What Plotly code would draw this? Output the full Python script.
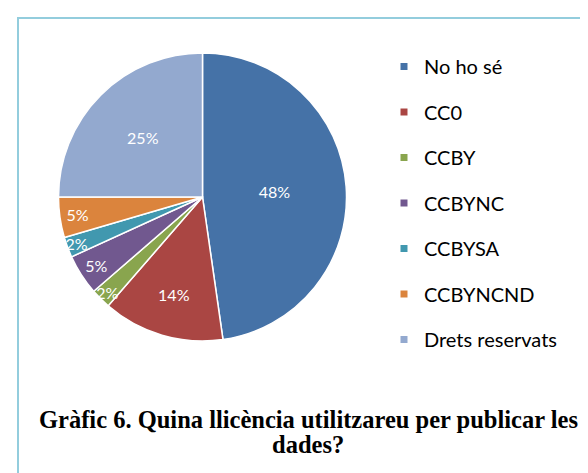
import plotly.graph_objects as go

labels = ["No ho sé", "CC0", "CCBY", "CCBYNC", "CCBYSA", "CCBYNCND", "Drets reservats"]
values = [21, 6, 1, 2, 1, 2, 11]
colors = ["#4572A7", "#AA4643", "#89A54E", "#71588F", "#4198AF", "#DB843D", "#93A9CF"]
title_lines = ["Gràfic 6. Quina llicència utilitzareu per publicar les", "dades?"]

W, H = 588, 473
fig = go.Figure()

fig.add_trace(go.Pie(
    labels=labels, values=values, sort=False, direction="clockwise", rotation=0,
    marker=dict(colors=colors, line=dict(color="white", width=1.5)),
    texttemplate="%{percent:.0%}", textposition="inside",
    insidetextorientation="horizontal",
    textfont=dict(color="white", size=16, family="Lato"),
    domain=dict(x=[50 / W, 339 / W], y=[(H - 333) / H, (H - 45) / H]),
    showlegend=False, hoverinfo="label+percent",
))

for lab, col in zip(labels, colors):
    fig.add_trace(go.Scatter(
        x=[None], y=[None], mode="markers", name=lab, legendgroup=lab,
        marker=dict(symbol="square", size=7, color=col), showlegend=True,
    ))

annotations = []
for i, line in enumerate(title_lines):
    annotations.append(dict(text="<b>" + line + "</b>", x=300 / W, y=(H - (411 + 25 * i)) / H,
                            xref="paper", yref="paper", xanchor="center", yanchor="middle",
                            showarrow=False, align="center",
                            font=dict(family="Liberation Serif", size=24.5, color="#000")))

fig.update_layout(
    width=W, height=H, margin=dict(l=0, r=0, t=0, b=0),
    paper_bgcolor="white", plot_bgcolor="white",
    xaxis=dict(visible=False), yaxis=dict(visible=False),
    uniformtext=dict(mode="show", minsize=16),
    legend=dict(x=376 / W, y=(H - 39) / H, xanchor="left", yanchor="top",
                font=dict(family="Lato", size=20, color="#000"),
                tracegroupgap=16.5, itemsizing="trace", bgcolor="rgba(0,0,0,0)"),
    shapes=[dict(type="rect", xref="paper", yref="paper",
                 x0=10 / W, x1=1.05, y0=-0.05, y1=(H - 10) / H,
                 line=dict(color="#93CDDD", width=2), fillcolor="rgba(0,0,0,0)")],
    annotations=annotations,
)

fig.write_html("out.html")
